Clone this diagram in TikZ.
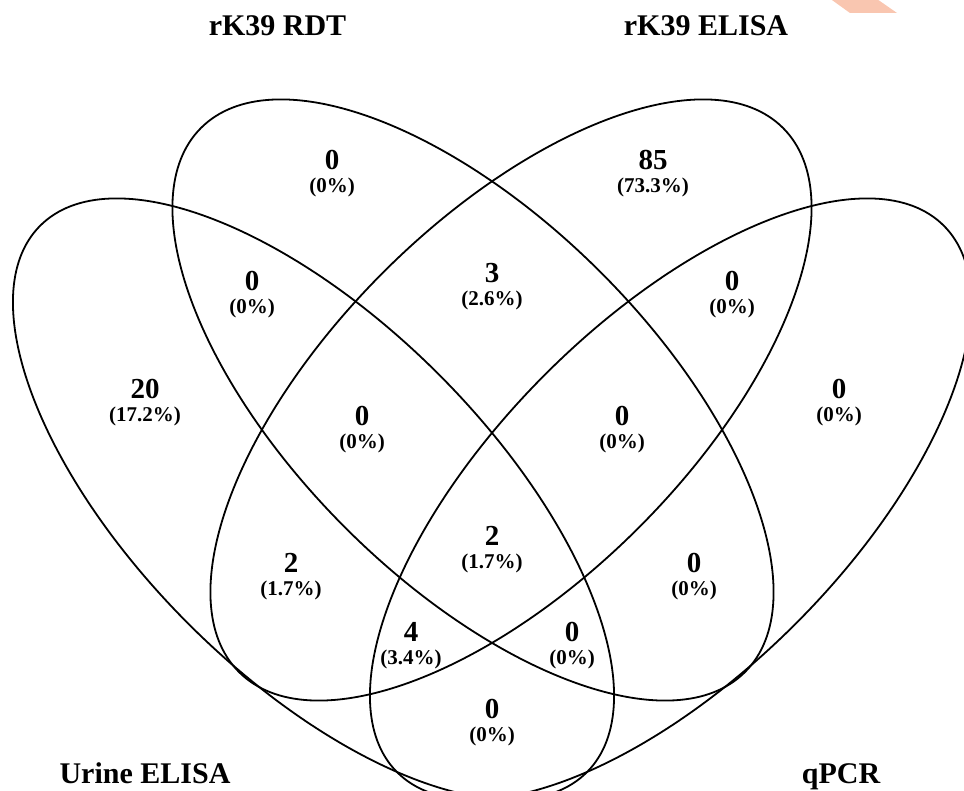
\documentclass[tikz,border=0pt]{standalone}
\usepackage{fontspec}
\setmainfont{Liberation Serif}
\definecolor{salmon}{RGB}{249,198,176}
\newcommand\vregion[5]{%
  \node[num] (n#1) at (#2,{780-#3}) {#4};
  \node[pct] (p#1) at (#2,{757.5-#3}) {#5};}
\begin{document}
\begin{tikzpicture}[x=1pt,y=1pt,
  venn/.style={line width=1.8pt, draw=black},
  cat/.style={font=\fontsize{30}{30}\selectfont\bfseries, anchor=base, inner sep=0pt},
  num/.style={font=\fontsize{29}{29}\selectfont\bfseries, anchor=base, inner sep=0pt},
  pct/.style={font=\fontsize{21}{21}\selectfont\bfseries, anchor=base, inner sep=0pt}]
\useasboundingbox (0,0) rectangle (964,790);
\clip (0,0) rectangle (964,790);
\fill[salmon] (818,800) -- (864,800) -- (897,777) -- (850,777) -- cycle;
% ellipses
\draw[venn, rotate around={-45:(313.5,291)}] (313.5,291) ellipse (386.5pt and 176.7pt);
\draw[venn, rotate around={-45:(473,390)}] (473,390) ellipse (384.7pt and 180.6pt);
\draw[venn, rotate around={45:(511,390)}] (511,390) ellipse (384.7pt and 180.6pt);
\draw[venn, rotate around={45:(670.5,291)}] (670.5,291) ellipse (386.5pt and 176.7pt);
% category labels
\node[cat] (lrdt) at (277.5,754) {rK39 RDT};
\node[cat] (lelisa) at (706,754) {rK39 ELISA};
\node[cat] (lurine) at (145,7) {Urine ELISA};
\node[cat] (lqpcr) at (841,7) {qPCR};
% region labels
\vregion{b}{332}{160}{0}{(0\%)}
\vregion{c}{653}{160}{85}{(73.3\%)}
\vregion{ab}{252}{281}{0}{(0\%)}
\vregion{bc}{492}{273}{3}{(2.6\%)}
\vregion{cd}{732}{281}{0}{(0\%)}
\vregion{a}{145}{389}{20}{(17.2\%)}
\vregion{d}{839}{389}{0}{(0\%)}
\vregion{abc}{362}{416}{0}{(0\%)}
\vregion{bcd}{622}{416}{0}{(0\%)}
\vregion{abcd}{492}{536}{2}{(1.7\%)}
\vregion{ac}{291}{563}{2}{(1.7\%)}
\vregion{bd}{694}{563}{0}{(0\%)}
\vregion{acd}{411}{632}{4}{(3.4\%)}
\vregion{abd}{572}{632}{0}{(0\%)}
\vregion{ad}{492}{709}{0}{(0\%)}
\end{tikzpicture}
\end{document}
